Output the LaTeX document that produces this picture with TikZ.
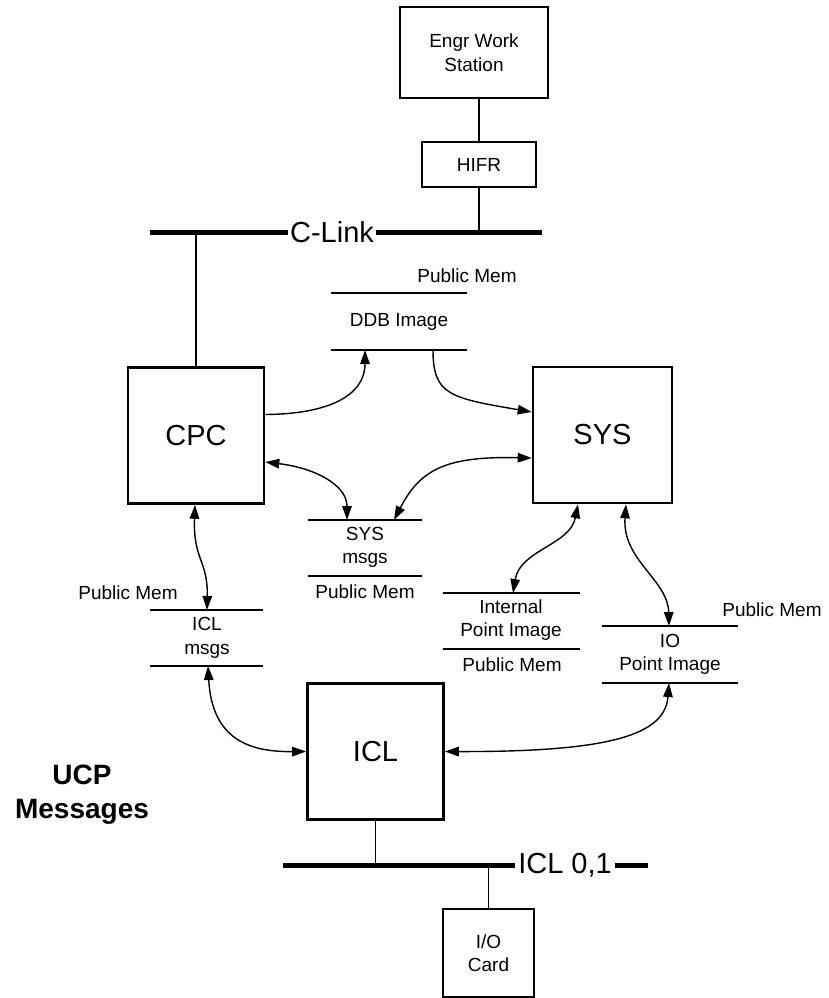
\documentclass[tikz,border=0pt]{standalone}
\usepackage{fontspec}
\setmainfont{Liberation Sans}
\usetikzlibrary{arrows.meta}
\begin{document}
\begin{tikzpicture}[x=1pt,y=-1pt,
  lbl/.style={font=\fontsize{19}{23.5}\selectfont, align=center, inner sep=0pt},
  bigbox/.style={draw, line width=2.6pt, minimum width=136pt, minimum height=136pt, font=\fontsize{29}{34}\selectfont, inner sep=0pt},
  smallbox/.style={draw, line width=1.4pt, font=\fontsize{19}{23.5}\selectfont, align=center, inner sep=0pt},
  conn/.style={line width=1.4pt},
  memline/.style={line width=1.4pt},
  bus/.style={line width=5pt},
  oneway/.style={conn, -{Triangle[length=14pt,width=9.5pt]}},
  twoway/.style={conn, {Triangle[length=14pt,width=9.5pt]}-{Triangle[length=14pt,width=9.5pt]}},
  bustext/.style={font=\fontsize{29}{34}\selectfont, inner sep=1.5pt}
]
\useasboundingbox (0,0) rectangle (828,998);

% top boxes
\node[smallbox, minimum width=148pt, minimum height=91pt] (ews) at (474,52.5) {Engr Work\\Station};
\node[smallbox, minimum width=114pt, minimum height=45pt] (hifr) at (479,164.5) {HIFR};

% C-Link bus
\node[bustext] (clink) at (332,232) {C-Link};
\coordinate (clL) at (150,232);
\coordinate (clR) at (542,232);
\coordinate (cl1) at (479,232);
\coordinate (cl2) at (196,232);
\draw[bus] (clL) -- (clink.west);
\draw[bus] (clink.east) -- (clR);
\draw[conn] (ews.south -| cl1) -- (hifr.north);
\draw[conn] (hifr.south) -- (cl1);

% main boxes
\node[bigbox] (cpc) at (196,435.5) {CPC};
\node[bigbox, minimum width=139pt] (sys) at (602.5,435) {SYS};
\node[bigbox] (icl) at (375.5,751.5) {ICL};
\draw[conn] (cpc.north) -- (cl2);

% DDB image
\node[lbl] (ddbpm) at (467,276) {Public Mem};
\coordinate (ddbT1) at (331,293);
\coordinate (ddbT2) at (467,293);
\draw[memline] (ddbT1) -- (ddbT2);
\node[lbl] (ddb) at (399,322) {DDB Image};
\coordinate (ddbB1) at (331,350);
\coordinate (ddbB2) at (467,350);
\draw[memline] (ddbB1) -- (ddbB2);
\coordinate (ddbA) at (365,350);
\coordinate (ddbB) at (433,350);

% SYS msgs
\coordinate (sysmT1) at (308,520);
\coordinate (sysmT2) at (422,520);
\draw[memline] (sysmT1) -- (sysmT2);
\node[lbl] (sysm) at (365,547.5) {SYS\\msgs};
\coordinate (sysmB1) at (308,576);
\coordinate (sysmB2) at (422,576);
\draw[memline] (sysmB1) -- (sysmB2);
\node[lbl] (sysmpm) at (365,592) {Public Mem};
\coordinate (sysmA) at (347,520);
\coordinate (sysmB) at (394,520);

% ICL msgs
\node[lbl] (iclmpm) at (128,593) {Public Mem};
\coordinate (iclmT1) at (150,610);
\coordinate (iclmT2) at (263,610);
\draw[memline] (iclmT1) -- (iclmT2);
\node[lbl] (iclm) at (207,638) {ICL\\msgs};
\coordinate (iclmB1) at (150,666);
\coordinate (iclmB2) at (263,666);
\draw[memline] (iclmB1) -- (iclmB2);
\coordinate (iclmA) at (207,610);
\coordinate (iclmB) at (208,666);

% Internal point image
\coordinate (intT1) at (443,593);
\coordinate (intT2) at (580,593);
\draw[memline] (intT1) -- (intT2);
\node[lbl] (int) at (511,620) {Internal\\Point Image};
\coordinate (intB1) at (443,649);
\coordinate (intB2) at (580,649);
\draw[memline] (intB1) -- (intB2);
\node[lbl] (intpm) at (512,665) {Public Mem};
\coordinate (intA) at (513,593);

% IO point image
\node[lbl] (iopm) at (772,610) {Public Mem};
\coordinate (ioT1) at (602,626);
\coordinate (ioT2) at (738,626);
\draw[memline] (ioT1) -- (ioT2);
\node[lbl] (io) at (670,654.5) {IO\\Point Image};
\coordinate (ioB1) at (602,683);
\coordinate (ioB2) at (738,683);
\draw[memline] (ioB1) -- (ioB2);
\coordinate (ioA) at (669,626);
\coordinate (ioB) at (669,683);

% connectors
\draw[oneway] ([yshift=21pt]cpc.east) .. controls (330,414) and (365,395) .. (ddbA);
\draw[oneway] (ddbB) .. controls (433,395) and (450,398) .. ([yshift=23pt]sys.west);
\draw[twoway] ([yshift=-26.5pt]cpc.east) .. controls (315,468) and (347,485) .. (sysmA);
\draw[twoway] ([yshift=-23pt]sys.west) .. controls (445,456) and (420,470) .. (sysmB);
\draw[twoway] ([xshift=-1pt]cpc.south) .. controls (193,560) and (208,560) .. (iclmA);
\draw[twoway] (iclmB) .. controls (212,740) and (250,752) .. (icl.west);
\draw[twoway] ([xshift=-24.5pt]sys.south) .. controls (570,545) and (520,550) .. (intA);
\draw[twoway] ([xshift=23.5pt]sys.south) .. controls (622,560) and (668,580) .. (ioA);
\draw[twoway] (icl.east) .. controls (610,752) and (665,735) .. (ioB);

% ICL bus
\node[bustext, inner sep=3pt] (iclbus) at (565,865) {ICL 0,1};
\coordinate (ibL) at (283,865);
\coordinate (ibR) at (648,865);
\coordinate (ib1) at (375.5,865);
\coordinate (ib2) at (488.5,865);
\draw[bus] (ibL) -- (iclbus.west);
\draw[bus] (iclbus.east) -- (ibR);
\draw[conn] (icl.south) -- (ib1);
\node[smallbox, minimum width=91pt, minimum height=88pt] (iocard) at (488.5,953) {I/O\\Card};
\draw[conn] (ib2) -- (iocard.north);

% left caption
\node[font=\bfseries\fontsize{28}{34}\selectfont, align=center, inner sep=0pt] (ucp) at (82,795) {UCP\\Messages};
\end{tikzpicture}
\end{document}
